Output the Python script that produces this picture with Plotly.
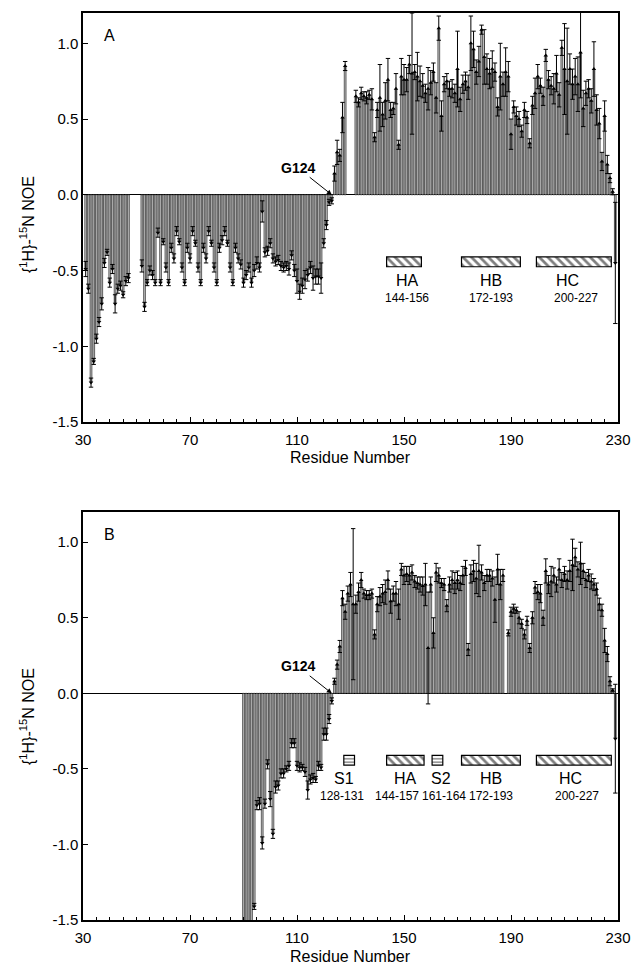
import plotly.graph_objects as go

FONT = "Liberation Sans, Arial, Helvetica, sans-serif"

# ---------------- data: panel A ----------------
A_seg_start = [31, 52, 124, 132, 180, 229]
A_seg_noe = [
    [-0.49, -0.62, -1.24, -1.10, -0.95, -0.84, -0.72, -0.45, -0.38, -0.58, -0.49, -0.72, -0.62, -0.60, -0.66, -0.57, -0.55],
    [-0.47, -0.74, -0.58, -0.50, -0.53, -0.58, -0.25, -0.58, -0.31, -0.48,
     -0.58, -0.35, -0.42, -0.24, -0.31, -0.48, -0.58, -0.35, -0.42, -0.24,
     -0.32, -0.48, -0.58, -0.35, -0.42, -0.24, -0.32, -0.48, -0.58, -0.35,
     -0.30, -0.24, -0.32, -0.48, -0.58, -0.35, -0.42, -0.46, -0.58, -0.53,
     -0.48, -0.58, -0.50, -0.45, -0.48, -0.11,
     -0.38, -0.37, -0.32, -0.42, -0.44, -0.43, -0.47, -0.48, -0.47, -0.49,
     -0.40, -0.50, -0.57, -0.64, -0.60, -0.56, -0.53, -0.48, -0.55, -0.54,
     -0.54, -0.55, -0.32, -0.20, -0.05, -0.04],
    [0.14, 0.28, 0.26, 0.51, 0.85],
    [0.65, 0.61, 0.67, 0.65, 0.64, 0.66, 0.63, 0.38, 0.56, 0.64, 0.53, 0.62, 0.76, 0.56, 0.57, 0.70,
     0.33, 0.78, 0.76, 0.76, 0.86, 0.80, 0.81, 0.78, 0.75, 0.72, 0.67, 0.70, 0.74, 0.81, 0.64, 1.10,
     0.52, 0.73, 0.75, 0.70, 0.70, 0.67, 0.83, 0.63, 0.73, 0.75, 0.71, 1.00, 0.96, 0.81, 0.88, 1.09],
    [0.91, 0.83, 0.80, 0.83, 0.81, 0.58, 0.78, 0.73, 0.81, 0.78, 0.40, 0.58, 0.52, 0.50, 0.42, 0.56,
     0.51, 0.34, 0.59, 0.67, 0.78, 0.72, 0.65, 0.92, 0.76, 0.72, 0.70, 0.80, 0.66, 0.97, 0.83, 0.75,
     0.83, 0.73, 0.78, 0.73, 0.94, 0.57, 0.67, 0.70, 0.62, 0.83, 0.56, 0.47, 0.22, 0.52, 0.20, 0.11, 0.02],
    [-0.45],
]
A_seg_err = [
    [0.05, 0.03, 0.03, 0.02, 0.03, 0.03, 0.04, 0.03, 0.02, 0.03, 0.03, 0.06, 0.03, 0.03, 0.02, 0.03, 0.03],
    [0.04, 0.03, 0.02, 0.03, 0.03, 0.02, 0.03, 0.02, 0.02, 0.03,
     0.02, 0.03, 0.03, 0.03, 0.02, 0.03, 0.02, 0.03, 0.03, 0.03,
     0.02, 0.03, 0.02, 0.03, 0.03, 0.03, 0.02, 0.03, 0.02, 0.03,
     0.03, 0.03, 0.02, 0.03, 0.02, 0.03, 0.03, 0.03, 0.03, 0.03,
     0.03, 0.03, 0.04, 0.04, 0.03, 0.07,
     0.03, 0.03, 0.03, 0.03, 0.03, 0.03, 0.03, 0.03, 0.03, 0.04,
     0.03, 0.04, 0.08, 0.05, 0.05, 0.06, 0.04, 0.04, 0.08, 0.05,
     0.05, 0.10, 0.03, 0.03, 0.02, 0.02],
    [0.05, 0.08, 0.04, 0.10, 0.03],
    [0.04, 0.03, 0.04, 0.03, 0.04, 0.03, 0.07, 0.03, 0.05, 0.22, 0.08, 0.12, 0.14, 0.05, 0.04, 0.10,
     0.03, 0.12, 0.10, 0.08, 0.06, 0.40, 0.05, 0.16, 0.10, 0.08, 0.06, 0.14, 0.08, 0.06, 0.10, 0.08,
     0.10, 0.05, 0.05, 0.05, 0.06, 0.06, 0.25, 0.08, 0.06, 0.06, 0.08, 0.18, 0.12, 0.08, 0.10, 0.03],
    [0.18, 0.10, 0.10, 0.12, 0.06, 0.06, 0.22, 0.08, 0.16, 0.10, 0.10, 0.04, 0.06, 0.05, 0.04, 0.05,
     0.04, 0.03, 0.06, 0.10, 0.08, 0.05, 0.06, 0.04, 0.06, 0.06, 0.10, 0.12, 0.08, 0.05, 0.30, 0.35,
     0.10, 0.10, 0.12, 0.18, 0.30, 0.12, 0.08, 0.06, 0.08, 0.18, 0.10, 0.10, 0.06, 0.10, 0.06, 0.03, 0.02],
    [0.40],
]

# ---------------- data: panel B ----------------
B_seg_start = [90, 124, 189, 229]
B_seg_noe = [
    [-1.6, -1.6, -1.6, -1.6, -1.41, -0.74, -0.73, -0.99, -0.73, -0.47, -0.70, -0.93, -0.62, -0.61,
     -0.53, -0.53, -0.50, -0.48, -0.33, -0.33, -0.48, -0.49, -0.49, -0.52, -0.64, -0.57, -0.56, -0.57,
     -0.48, -0.49, -0.27, -0.27, -0.17, -0.05],
    [0.08, 0.19, 0.31, 0.63, 0.54, 0.66, 0.72, 0.59, 0.59, 0.67, 0.75, 0.66, 0.65, 0.65, 0.66, 0.39,
     0.59, 0.64, 0.66, 0.67, 0.75, 0.61, 0.66, 0.66, 0.59, 0.82, 0.78, 0.79, 0.78, 0.80, 0.74, 0.73,
     0.72, 0.71, 0.72, 0.30, 0.72, 0.40, 0.80, 0.78, 0.73, 0.72, 0.58, 0.72, 0.75, 0.73, 0.75, 0.73,
     0.78, 0.83, 0.29, 0.79, 0.81, 0.76, 0.81, 0.80, 0.73, 0.78, 0.78, 0.76, 0.62, 0.82, 0.72, 0.78],
    [0.40, 0.54, 0.56, 0.55, 0.50, 0.46, 0.39, 0.48, 0.30, 0.50, 0.70, 0.67, 0.66, 0.50, 0.81, 0.72,
     0.74, 0.78, 0.72, 0.82, 0.75, 0.79, 0.75, 0.81, 0.85, 0.90, 0.82, 0.86, 0.81, 0.75, 0.78, 0.74,
     0.72, 0.69, 0.59, 0.55, 0.35, 0.26, 0.08, 0.02],
    [-0.30],
]
B_seg_err = [
    [0.05, 0.05, 0.05, 0.05, 0.02, 0.03, 0.04, 0.04, 0.03, 0.03, 0.05, 0.03, 0.04, 0.03,
     0.03, 0.03, 0.02, 0.03, 0.03, 0.03, 0.03, 0.03, 0.02, 0.03, 0.06, 0.03, 0.03, 0.02,
     0.03, 0.02, 0.04, 0.04, 0.03, 0.02],
    [0.02, 0.03, 0.04, 0.05, 0.05, 0.05, 0.08, 0.50, 0.06, 0.06, 0.05, 0.03, 0.03, 0.03, 0.03, 0.03,
     0.05, 0.06, 0.06, 0.08, 0.06, 0.08, 0.05, 0.08, 0.10, 0.04, 0.06, 0.05, 0.06, 0.05, 0.04, 0.04,
     0.05, 0.06, 0.14, 0.37, 0.05, 0.10, 0.06, 0.05, 0.03, 0.04, 0.04, 0.05, 0.06, 0.07, 0.06, 0.05,
     0.06, 0.05, 0.04, 0.06, 0.07, 0.10, 0.17, 0.05, 0.05, 0.04, 0.04, 0.05, 0.15, 0.10, 0.10, 0.04],
    [0.02, 0.03, 0.03, 0.02, 0.04, 0.03, 0.03, 0.03, 0.03, 0.04, 0.04, 0.05, 0.06, 0.05, 0.08, 0.06,
     0.10, 0.05, 0.05, 0.07, 0.05, 0.05, 0.06, 0.07, 0.17, 0.06, 0.05, 0.14, 0.05, 0.05, 0.04, 0.05,
     0.04, 0.04, 0.04, 0.04, 0.08, 0.05, 0.03, 0.01],
    [0.36],
]

# secondary structure elements
A_el_name = ["HA", "HB", "HC"]
A_el_range = ["144-156", "172-193", "200-227"]
A_el_start = [144, 172, 200]
A_el_end = [156, 193, 227]
A_el_kind = ["helix", "helix", "helix"]

B_el_name = ["S1", "HA", "S2", "HB", "HC"]
B_el_range = ["128-131", "144-157", "161-164", "172-193", "200-227"]
B_el_start = [128, 144, 161, 172, 200]
B_el_end = [131, 157, 164, 193, 227]
B_el_kind = ["strand", "helix", "strand", "helix", "helix"]

x_ticks = [30, 70, 110, 150, 190, 230]
y_ticks = [-1.5, -1.0, -0.5, 0.0, 0.5, 1.0]
y_ticktext = ["-1.5", "-1.0", "-0.5", "0.0", "0.5", "1.0"]
G124_target = 123


def build(starts, segs, errs):
    res, val, err = [], [], []
    for s, vs, es in zip(starts, segs, errs):
        for i, (v, e) in enumerate(zip(vs, es)):
            res.append(s + i)
            val.append(v)
            err.append(e)
    return res, val, err


A_res, A_noe, A_err = build(A_seg_start, A_seg_noe, A_seg_err)
B_res, B_noe, B_err = build(B_seg_start, B_seg_noe, B_seg_err)

# ---------------- figure ----------------
W, H = 631, 966
ML, MT = 83, 13
PW = 618 - 83
MR = W - ML - PW
PLOT_BOTTOM = 920
MB = H - PLOT_BOTTOM
PH = PLOT_BOTTOM - MT


def py(pix):
    return (PLOT_BOTTOM - pix) / PH


def px(pix):
    return (pix - ML) / PW


fig = go.Figure()

panels = [
    ("x", "y", A_res, A_noe, A_err, A_el_name, A_el_range, A_el_start, A_el_end, A_el_kind),
    ("x2", "y2", B_res, B_noe, B_err, B_el_name, B_el_range, B_el_start, B_el_end, B_el_kind),
]

name_shift = {("y", "HA"): 3, ("y", "HC"): -6, ("y2", "S1"): -5, ("y2", "S2"): 4, ("y2", "HC"): -3}
range_shift = {("y", "HA"): 3, ("y", "HC"): 2, ("y2", "S1"): -7, ("y2", "HA"): -8, ("y2", "S2"): 7, ("y2", "HC"): 3}

for xa, ya, res, noe, err, names, rngs, st, en, kind in panels:
    fig.add_trace(go.Bar(
        x=res, y=noe, xaxis=xa, yaxis=ya, width=0.68,
        marker=dict(color="#bdbdbd", line=dict(color="#111111", width=0.6)),
        error_y=dict(type="data", array=err, visible=True, color="black", thickness=1.0, width=2.2),
        showlegend=False, hoverinfo="skip",
    ))
    fig.add_trace(go.Scatter(
        x=res, y=noe, xaxis=xa, yaxis=ya, mode="markers",
        marker=dict(symbol=["triangle-up" if v >= 0 else "triangle-down" for v in noe],
                    size=4, color="black"),
        showlegend=False, hoverinfo="skip",
    ))
    # secondary structure boxes
    for nm, rg, s, e, k in zip(names, rngs, st, en, kind):
        pat = dict(shape="\\", size=6, solidity=0.45, fgcolor="black", bgcolor="white") if k == "helix" \
            else dict(shape="-", size=3.5, solidity=0.4, fgcolor="black", bgcolor="white")
        fig.add_trace(go.Bar(
            x=[(s + e) / 2], y=[0.065], base=[-0.475], width=[e - s + 1],
            xaxis=xa, yaxis=ya,
            marker=dict(color="white", pattern=pat, line=dict(color="black", width=1.2)),
            showlegend=False, hoverinfo="skip",
        ))
        fig.add_annotation(x=(s + e) / 2, y=-0.565, xref=xa, yref=ya, text=nm, showarrow=False,
                           xshift=name_shift.get((ya, nm), 0),
                           font=dict(family=FONT, size=16, color="black"))
        fig.add_annotation(x=(s + e) / 2, y=-0.68, xref=xa, yref=ya, text=rg, showarrow=False,
                           xshift=range_shift.get((ya, nm), 0),
                           font=dict(family=FONT, size=12, color="black"))
    fig.add_annotation(x=G124_target, y=0, xref=xa, yref=ya, text="<b>G124</b>",
                       showarrow=True, ax=-34, ay=-27, arrowhead=2, arrowsize=1, arrowwidth=1,
                       arrowcolor="black", standoff=0,
                       font=dict(family=FONT, size=14, color="black"))

axis_common = dict(
    showline=True, linecolor="black", linewidth=1.6, mirror=True,
    ticks="inside", tickcolor="black", showgrid=False,
    tickfont=dict(family=FONT, size=15, color="black"),
)
xaxis_common = dict(
    domain=[0, 1], range=[30, 230], tickvals=x_ticks, ticklen=5, ticklabelstandoff=3,
    ticklabeloverflow="allow",
    minor=dict(dtick=5, tick0=30, ticks="inside", ticklen=3, tickcolor="black"),
    zeroline=False, automargin=False, **axis_common,
)
yaxis_common = dict(
    range=[-1.5, 1.2], tickvals=y_ticks, ticktext=y_ticktext, ticklen=5, zeroline=True,
    zerolinecolor="black", zerolinewidth=1.4, automargin=False, **axis_common,
)

fig.update_layout(
    width=W, height=H,
    margin=dict(l=ML, r=MR, t=MT, b=MB),
    plot_bgcolor="white", paper_bgcolor="white",
    barmode="overlay",
    xaxis=dict(anchor="y", **xaxis_common),
    yaxis=dict(domain=[py(422), 1.0], anchor="x", **yaxis_common),
    xaxis2=dict(anchor="y2", **xaxis_common),
    yaxis2=dict(domain=[0, py(512)], anchor="x2", **yaxis_common),
)

ytitle = "{<sup>1</sup>H}-<sup>15</sup>N NOE"
for ypix in (225, 717):
    fig.add_annotation(x=px(27), y=py(ypix), xref="paper", yref="paper", text=ytitle,
                       textangle=-90, showarrow=False, xanchor="center", yanchor="middle",
                       font=dict(family=FONT, size=16, color="black"))
for ypix in (457, 956):
    fig.add_annotation(x=0.5, y=py(ypix), xref="paper", yref="paper", text="Residue Number",
                       showarrow=False, xanchor="center", yanchor="middle",
                       font=dict(family=FONT, size=16, color="black"))
for lab, xa, ya in (("A", "x", "y"), ("B", "x2", "y2")):
    fig.add_annotation(x=0.05, y=0.945, xref=xa + " domain", yref=ya + " domain", text=lab,
                       showarrow=False, xanchor="center", yanchor="middle",
                       font=dict(family=FONT, size=16, color="black"))

# remove the default page margin so the figure sits at the window's top-left corner
fig.write_html(
    "out.html",
    config={"displayModeBar": False, "staticPlot": True},
    post_script="document.body.style.margin='0';document.body.style.overflow='hidden';",
)
